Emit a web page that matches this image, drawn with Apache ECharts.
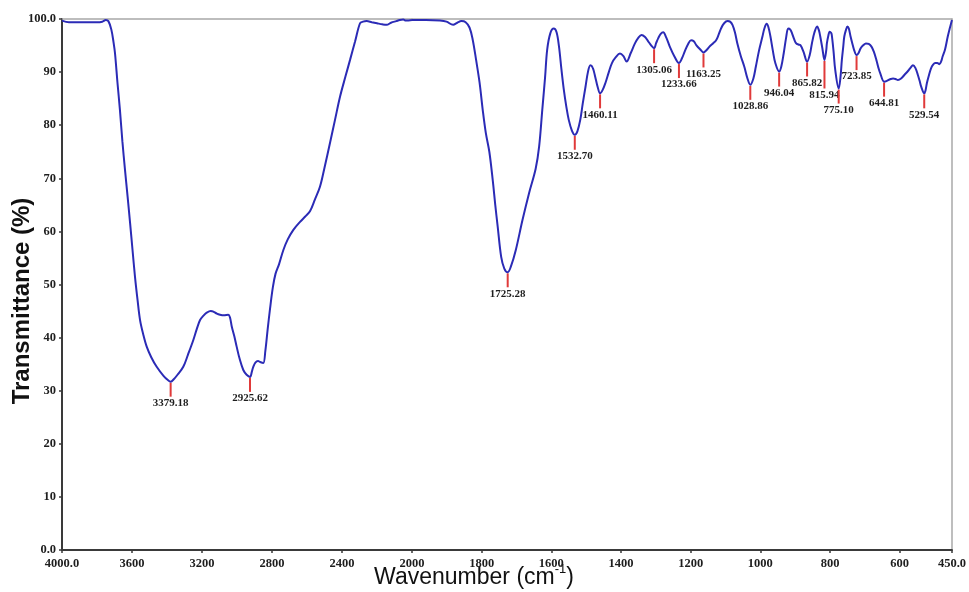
<!DOCTYPE html>
<html>
<head>
<meta charset="utf-8">
<script src="https://cdn.jsdelivr.net/npm/echarts@6.0.0/dist/echarts.min.js"></script>
<style>
  html, body { margin: 0; padding: 0; background: #fff; }
  #chart { width: 969px; height: 592px; }
</style>
</head>
<body>
<div id="chart"></div>
<script>
// FTIR spectrum, wavenumber in cm-1 (descending) and transmittance in %
const wavenumbers = [
  4000, 3960, 3900, 3850, 3800, 3770, 3750, 3735, 3718, 3705, 3697, 3683, 3669, 3655, 3640,
  3625, 3611, 3597, 3583, 3568, 3554, 3535, 3516, 3490, 3459, 3420, 3395, 3379.18, 3360, 3340,
  3307, 3280, 3250, 3230, 3211, 3190, 3173, 3150, 3135, 3115, 3097, 3075, 3050, 3040, 3030,
  3015, 3002, 2985, 2964, 2945, 2925.62, 2915, 2907, 2895, 2880, 2868, 2850, 2838, 2825, 2811,
  2795, 2780, 2760, 2735, 2710, 2678, 2640, 2610, 2583, 2555, 2526, 2500, 2469, 2440, 2411,
  2380, 2354, 2325, 2297, 2280, 2259, 2230, 2200, 2170, 2145, 2120, 2090, 2070, 2050, 2035,
  2000, 1960, 1920, 1901, 1882, 1870, 1858, 1846, 1835, 1826, 1816, 1806, 1797, 1788, 1778,
  1768, 1761, 1754, 1744, 1735, 1725.28, 1716, 1702, 1683, 1664, 1645, 1635, 1626, 1618, 1612,
  1603, 1593, 1585, 1578, 1571, 1564, 1557, 1550, 1541, 1532.70, 1525, 1517, 1510, 1502, 1495,
  1488, 1481, 1474, 1467, 1460.11, 1453, 1445, 1435, 1426, 1415, 1403, 1393, 1384, 1372, 1360,
  1350, 1341, 1331, 1322, 1313, 1305.06, 1299, 1293, 1286, 1279, 1270, 1260, 1247, 1233.66, 1225,
  1217, 1208, 1199, 1191, 1184, 1173, 1163.25, 1155, 1146, 1136, 1127, 1120, 1113, 1104, 1094,
  1087, 1080, 1073, 1066, 1056, 1046, 1037, 1028.86, 1020, 1013, 1004, 994, 988, 982, 977,
  971, 964, 957, 946.04, 940, 933, 926, 920, 914, 909, 903, 897, 891, 885, 876,
  865.82, 858, 852, 845, 837, 832, 828, 822, 815.94, 811, 809, 805, 801, 797, 795,
  790, 785, 775.10, 770, 766, 762, 759, 754, 750, 746, 741, 736, 731, 723.85, 718,
  712, 704, 697, 689, 681, 674, 667, 661, 656, 644.81, 638, 633, 626, 619, 612,
  605, 596, 586, 575, 568, 562, 555, 548, 543, 538, 529.54, 526, 522, 516, 510,
  504, 498, 492, 486, 481, 477, 470, 462, 456, 450
];
const transmittance = [
  99.7, 99.4, 99.4, 99.4, 99.4, 99.5, 99.8, 99.6, 98.0, 95.5, 93.5, 88.0, 82.9, 77.0, 71.6,
  66.5, 61.6, 56.5, 51.5, 47.0, 43.3, 40.5, 38.3, 36.3, 34.5, 32.8, 32.0, 31.7, 32.2, 33.0,
  34.5, 36.8, 39.5, 41.6, 43.3, 44.2, 44.7, 45.0, 44.9, 44.5, 44.3, 44.2, 44.3, 43.8, 42.1,
  40.2, 38.3, 36.0, 33.9, 33.0, 32.6, 33.6, 34.5, 35.3, 35.6, 35.4, 35.2, 37.5, 41.5, 45.5,
  49.5, 52.0, 53.8, 56.5, 58.5, 60.3, 61.8, 62.8, 63.8, 66.0, 68.4, 72.0, 76.6, 81.0, 85.4,
  89.2, 92.3, 95.8, 99.2, 99.5, 99.6, 99.4, 99.2, 99.0, 98.9, 99.3, 99.6, 99.8, 99.9, 99.7,
  99.8, 99.8, 99.7, 99.5, 98.9, 99.3, 99.6, 99.4, 98.4, 96.2, 92.3, 88.0, 82.9, 78.5, 75.0,
  69.5, 65.0, 60.9, 55.2, 53.0, 52.3, 53.4, 56.5, 62.1, 67.2, 71.8, 76.0, 82.9, 89.0, 94.2,
  97.3, 98.2, 97.5, 94.8, 90.5, 86.6, 83.5, 81.0, 79.0, 78.2, 78.9, 81.0, 84.0, 87.2, 90.0,
  91.3, 90.8, 89.1, 87.2, 86.0, 86.6, 87.9, 90.0, 91.7, 92.8, 93.5, 93.0, 92.0, 93.6, 95.4,
  96.5, 97.0, 96.6, 95.8, 95.0, 94.5, 95.5, 96.4, 97.2, 97.5, 96.5, 94.8, 93.0, 91.7, 92.6,
  93.9, 95.2, 96.0, 95.8, 95.1, 94.3, 93.7, 94.1, 94.8, 95.4, 96.0, 97.0, 98.2, 99.2, 99.6,
  99.5, 98.9, 97.5, 95.4, 93.0, 91.0, 88.8, 87.6, 88.8, 91.0, 94.0, 96.7, 98.3, 99.1, 98.5,
  96.7, 94.0, 91.7, 90.1, 91.0, 93.5, 96.5, 98.2, 98.0, 97.3, 96.2, 95.4, 95.2, 95.1, 93.8,
  92.0, 93.3, 95.4, 97.4, 98.6, 97.9, 96.7, 94.5, 92.3, 94.0, 95.4, 96.8, 97.6, 97.4, 97.0,
  94.0, 90.4, 86.9, 89.0, 92.3, 94.8, 96.7, 98.0, 98.6, 98.2, 96.7, 95.4, 94.2, 93.2, 93.6,
  94.5, 95.1, 95.4, 95.3, 94.8, 93.8, 92.3, 90.8, 89.8, 88.2, 88.3, 88.5, 88.7, 88.8, 88.7,
  88.5, 88.8, 89.5, 90.3, 90.9, 91.3, 90.8, 89.5, 88.4, 87.2, 86.0, 86.5, 87.9, 89.4, 90.7,
  91.4, 91.7, 91.7, 91.5, 92.0, 92.9, 94.2, 96.7, 98.3, 99.8
];

// Labelled absorption bands (band position, transmittance at the band minimum)
const peakWavenumbers = [
  3379.18, 2925.62, 1725.28, 1532.70, 1460.11, 1305.06, 1233.66, 1163.25,
  1028.86, 946.04, 865.82, 815.94, 775.10, 723.85, 644.81, 529.54
];
const peakTransmittance = [
  31.7, 32.6, 52.3, 78.2, 86.0, 94.5, 91.7, 93.7,
  87.6, 90.1, 92.0, 92.3, 86.9, 93.2, 88.2, 86.0
];

// Tick labels: the wavenumber scale is compressed 2:1 above 2000 cm-1
const highRangeTicks = [4000, 3600, 3200, 2800, 2400, 2000];
const lowRangeTicks = [1800, 1600, 1400, 1200, 1000, 800, 600, 450];
const transmittanceTicks = [0, 10, 20, 30, 40, 50, 60, 70, 80, 90, 100];

const BREAK = 2000;
const pairs = wavenumbers.map((w, i) => [w, transmittance[i]]);
const peaks = peakWavenumbers.map((w, i) => [w, peakTransmittance[i]]);
const highData = pairs.filter(d => d[0] >= BREAK);
const lowData = pairs.filter(d => d[0] <= BREAK);
const highPeaks = peaks.filter(d => d[0] > BREAK);
const lowPeaks = peaks.filter(d => d[0] <= BREAK);

const LINE_COLOR = '#2b2bb6';
const MARK_COLOR = '#e03a3a';
const TEXT_COLOR = '#1e1e1e';
const SERIF = '"Liberation Serif", "DejaVu Serif", serif';

// Peak-label layout: drop the label below the band minimum and push it
// down one row when it would collide with a label already placed.
const LABEL_GAP = 16;
const LABEL_W = 36;
const LABEL_H = 10;
const ROW_STEP = 12;

function layoutPeakLabels(api, items) {
  const placed = [];
  return items.map(d => {
    const p = api.coord(d);
    let top = p[1] + LABEL_GAP;
    let moved = true;
    while (moved) {
      moved = false;
      for (const q of placed) {
        if (Math.abs(q.x - p[0]) < LABEL_W && top < q.top + LABEL_H && top + LABEL_H > q.top) {
          top = q.top + ROW_STEP;
          moved = true;
        }
      }
    }
    const r = { x: p[0], y: p[1], top: top };
    placed.push(r);
    return r;
  });
}

function makePeakRenderer(items) {
  return function (params, api) {
    const layout = layoutPeakLabels(api, items);
    const L = layout[params.dataIndex];
    return {
      type: 'group',
      children: [
        {
          type: 'line',
          shape: { x1: L.x, y1: L.y + 1, x2: L.x, y2: L.top - 1 },
          style: { stroke: MARK_COLOR, lineWidth: 2 }
        },
        {
          type: 'text',
          x: L.x,
          y: L.top,
          style: {
            text: api.value(0).toFixed(2),
            fill: TEXT_COLOR,
            fontSize: 11,
            fontWeight: 'bold',
            fontFamily: SERIF,
            align: 'center',
            verticalAlign: 'top'
          }
        }
      ]
    };
  };
}

function wnLabel(v) {
  if (v === 4000 || v === 450) return v.toFixed(1);
  return String(v);
}

const bottomAxisBase = {
  type: 'value',
  position: 'bottom',
  inverse: true,
  axisLine: { onZero: false, lineStyle: { color: '#3a3a3a', width: 2 } },
  axisTick: { length: 3, lineStyle: { color: '#3a3a3a', width: 1.5 } },
  axisLabel: {
    color: TEXT_COLOR, fontSize: 12.5, fontWeight: 'bold', fontFamily: SERIF,
    margin: 7, formatter: wnLabel
  },
  splitLine: { show: false }
};

const topAxisBase = {
  type: 'value',
  position: 'top',
  inverse: true,
  axisLine: { onZero: false, lineStyle: { color: '#a8a8a8', width: 1.5 } },
  axisTick: { show: false },
  axisLabel: { show: false },
  splitLine: { show: false }
};

const chart = echarts.init(document.getElementById('chart'), null, { renderer: 'canvas' });

chart.setOption({
  animation: false,
  backgroundColor: '#ffffff',
  grid: [
    { left: 62, top: 19, width: 350, height: 531 },
    { left: 412, top: 19, width: 544, height: 531 }
  ],
  xAxis: [
    Object.assign({}, bottomAxisBase, {
      gridIndex: 0, min: BREAK, max: 4000,
      axisTick: Object.assign({}, bottomAxisBase.axisTick, { customValues: highRangeTicks }),
      axisLabel: Object.assign({}, bottomAxisBase.axisLabel, { customValues: highRangeTicks })
    }),
    Object.assign({}, bottomAxisBase, {
      gridIndex: 1, min: 450, max: BREAK,
      axisTick: Object.assign({}, bottomAxisBase.axisTick, { customValues: lowRangeTicks }),
      axisLabel: Object.assign({}, bottomAxisBase.axisLabel, { customValues: lowRangeTicks })
    }),
    Object.assign({}, topAxisBase, { gridIndex: 0, min: BREAK, max: 4000 }),
    Object.assign({}, topAxisBase, { gridIndex: 1, min: 450, max: BREAK })
  ],
  yAxis: [
    {
      type: 'value', gridIndex: 0, min: 0, max: 100, position: 'left',
      axisLine: { show: true, onZero: false, lineStyle: { color: '#3a3a3a', width: 2 } },
      axisTick: {
        show: true, length: 3, lineStyle: { color: '#3a3a3a', width: 1.5 },
        customValues: transmittanceTicks
      },
      axisLabel: {
        color: TEXT_COLOR, fontSize: 12.5, fontWeight: 'bold', fontFamily: SERIF, margin: 6,
        customValues: transmittanceTicks,
        formatter: v => (v === 0 || v === 100) ? v.toFixed(1) : String(v)
      },
      splitLine: { show: false }
    },
    {
      type: 'value', gridIndex: 1, min: 0, max: 100, position: 'right',
      axisLine: { show: true, onZero: false, lineStyle: { color: '#a8a8a8', width: 1.5 } },
      axisTick: { show: false },
      axisLabel: { show: false },
      splitLine: { show: false }
    }
  ],
  series: [
    {
      type: 'line', xAxisIndex: 0, yAxisIndex: 0, data: highData,
      showSymbol: false, smooth: 0.35,
      lineStyle: { color: LINE_COLOR, width: 2 }, z: 3
    },
    {
      type: 'line', xAxisIndex: 1, yAxisIndex: 1, data: lowData,
      showSymbol: false, smooth: 0.35,
      lineStyle: { color: LINE_COLOR, width: 2 }, z: 3
    },
    {
      type: 'custom', xAxisIndex: 0, yAxisIndex: 0, data: highPeaks,
      renderItem: makePeakRenderer(highPeaks), clip: false, z: 2
    },
    {
      type: 'custom', xAxisIndex: 1, yAxisIndex: 1, data: lowPeaks,
      renderItem: makePeakRenderer(lowPeaks), clip: false, z: 2
    }
  ],
  graphic: [
    {
      type: 'text',
      x: 22, y: 301,
      rotation: Math.PI / 2,
      style: {
        text: 'Transmittance (%)',
        fill: '#111',
        fontSize: 24,
        fontWeight: 'bold',
        fontFamily: '"Liberation Sans", Arial, sans-serif',
        align: 'center',
        verticalAlign: 'middle'
      }
    },
    {
      type: 'text',
      x: 474, y: 576,
      style: {
        text: '{t|Wavenumber (cm}{s|-1}{t|)}',
        align: 'center',
        verticalAlign: 'middle',
        rich: {
          t: { fontSize: 23, fill: '#111', fontFamily: '"Liberation Sans", Arial, sans-serif', verticalAlign: 'bottom', lineHeight: 26 },
          s: { fontSize: 13, fill: '#111', fontFamily: '"Liberation Sans", Arial, sans-serif', verticalAlign: 'top', lineHeight: 26 }
        }
      }
    }
  ]
});
</script>
</body>
</html>
